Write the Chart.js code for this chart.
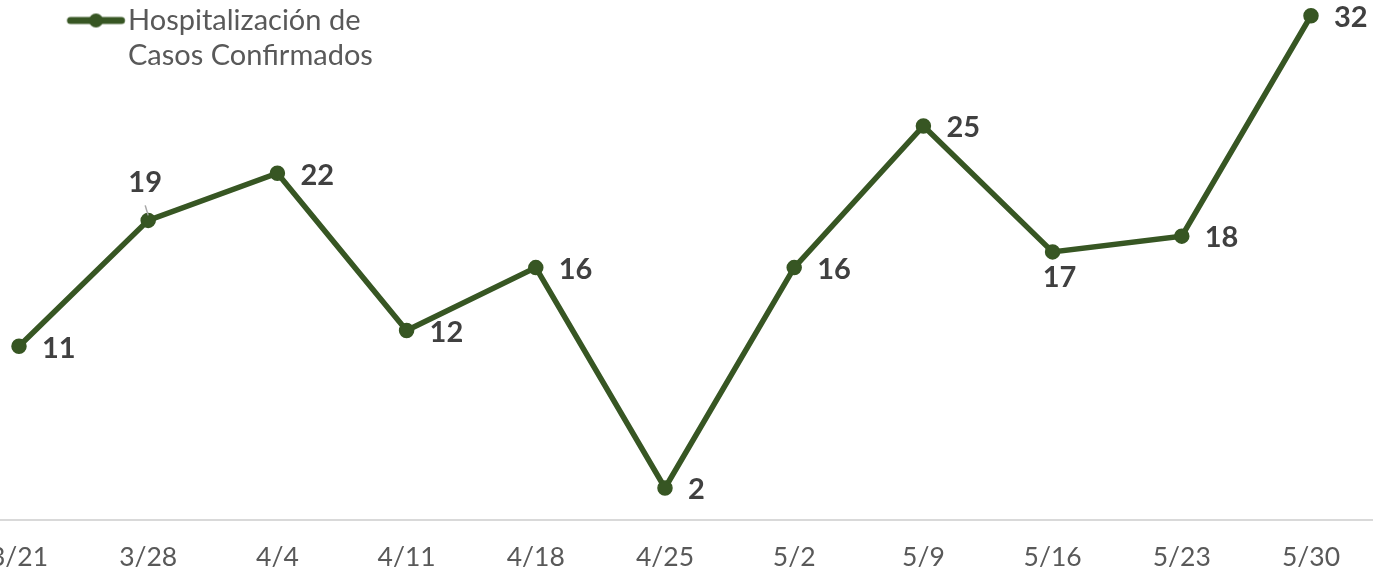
<!DOCTYPE html>
<html>
<head>
<meta charset="utf-8">
<script src="https://cdn.jsdelivr.net/npm/chart.js@4.4.1/dist/chart.umd.min.js"></script>
<style>
  html, body { margin: 0; padding: 0; background: #ffffff; overflow: hidden; }
  #wrap { width: 1373px; height: 570px; position: relative; }
</style>
</head>
<body>
<div id="wrap"><canvas id="c"></canvas></div>
<script>
// ---- data ----
const categories = ['3/21', '3/28', '4/4', '4/11', '4/18', '4/25', '5/2', '5/9', '5/16', '5/23', '5/30'];
const hospitalizaciones = [11, 19, 22, 12, 16, 2, 16, 25, 17, 18, 32];
const seriesLines = ['Hospitalización de', 'Casos Confirmados'];
// label placement per point (style, not data)
const labelPlacement = ['right', 'above', 'right', 'right', 'right', 'right', 'right', 'right', 'below', 'right', 'right'];

// ---- styles ----
const GREEN = '#375623';
const FONT = 'Lato';
const LEG_FONT = 29;
const LEG_PAD = 6;
const LEG_TEXT_X = 128, LEG_LINE_X0 = 67, LEG_LINE_X1 = 125, LEG_DOT_X = 96;

// legend marker image: line with a dot
const psw = LEG_TEXT_X - LEG_PAD - LEG_FONT / 2;
const legCenterX = LEG_PAD + psw / 2;
const half = Math.ceil(Math.max(legCenterX - LEG_LINE_X0, LEG_LINE_X1 - legCenterX) + 6);
const legImg = document.createElement('canvas');
legImg.width = half * 2;
legImg.height = 20;
(function () {
  const g = legImg.getContext('2d');
  const origin = legCenterX - half;
  g.strokeStyle = GREEN;
  g.fillStyle = GREEN;
  g.lineWidth = 7;
  g.lineCap = 'round';
  g.beginPath();
  g.moveTo(LEG_LINE_X0 + 3.5 - origin, 10);
  g.lineTo(LEG_LINE_X1 - 3.5 - origin, 10);
  g.stroke();
  g.beginPath();
  g.arc(LEG_DOT_X - origin, 10, 7, 0, Math.PI * 2);
  g.fill();
})();

const dataLabelPlugin = {
  id: 'dataLabels',
  afterDatasetsDraw(chart) {
    const ctx = chart.ctx;
    const meta = chart.getDatasetMeta(0);
    const values = chart.data.datasets[0].data;
    ctx.save();
    ctx.font = 'bold 29px ' + FONT;
    ctx.fillStyle = '#404040';
    ctx.textBaseline = 'middle';
    meta.data.forEach((pt, i) => {
      const txt = String(values[i].y);
      const p = labelPlacement[i];
      if (p === 'above') {
        ctx.strokeStyle = '#a6a6a6';
        ctx.lineWidth = 1.5;
        ctx.beginPath();
        ctx.moveTo(pt.x - 3, pt.y - 15);
        ctx.lineTo(pt.x, pt.y - 5);
        ctx.stroke();
        ctx.textAlign = 'center';
        ctx.fillText(txt, pt.x - 3, pt.y - 38);
      } else if (p === 'below') {
        ctx.textAlign = 'center';
        ctx.fillText(txt, pt.x + 7, pt.y + 26);
      } else {
        ctx.textAlign = 'left';
        ctx.fillText(txt, pt.x + 23, pt.y + 2);
      }
    });
    ctx.restore();
  }
};

new Chart(document.getElementById('c'), {
  type: 'line',
  data: {
    datasets: [{
      label: seriesLines.join(' '),
      data: hospitalizaciones.map((v, i) => ({ x: i, y: v })),
      borderColor: GREEN,
      backgroundColor: GREEN,
      borderWidth: 5.5,
      pointRadius: 7,
      pointBorderWidth: 1.5,
      pointBackgroundColor: GREEN,
      pointBorderColor: GREEN,
      tension: 0,
      clip: false
    }]
  },
  plugins: [dataLabelPlugin],
  options: {
    responsive: true,
    maintainAspectRatio: false,
    animation: false,
    layout: { padding: 0, autoPadding: false },
    plugins: {
      tooltip: { enabled: false },
      legend: {
        display: true,
        position: 'chartArea',
        align: 'start',
        labels: {
          usePointStyle: true,
          pointStyle: legImg,
          pointStyleWidth: psw,
          padding: LEG_PAD,
          color: '#595959',
          font: { family: FONT, size: LEG_FONT, lineHeight: 1.22 },
          generateLabels(chart) {
            const items = Chart.defaults.plugins.legend.labels.generateLabels(chart);
            items.forEach(it => { it.text = seriesLines.slice(); it.pointStyle = legImg; });
            return items;
          }
        }
      }
    },
    scales: {
      x: {
        type: 'linear',
        min: -0.147,
        max: 10.48,
        bounds: 'data',
        afterBuildTicks(s) { s.ticks = categories.map((_, i) => ({ value: i })); },
        afterFit(s) { s.paddingLeft = 0; s.paddingRight = 0; s.height = 50.5; },
        ticks: {
          autoSkip: false,
          maxRotation: 0,
          color: '#595959',
          padding: 22,
          font: { family: FONT, size: 26.5 },
          callback: (v) => categories[v] !== undefined ? categories[v] : ''
        },
        grid: { display: false, drawTicks: false },
        border: { display: true, color: '#d9d9d9', width: 2 }
      },
      y: {
        display: false,
        min: 0,
        max: 33
      }
    }
  }
});
</script>
</body>
</html>
